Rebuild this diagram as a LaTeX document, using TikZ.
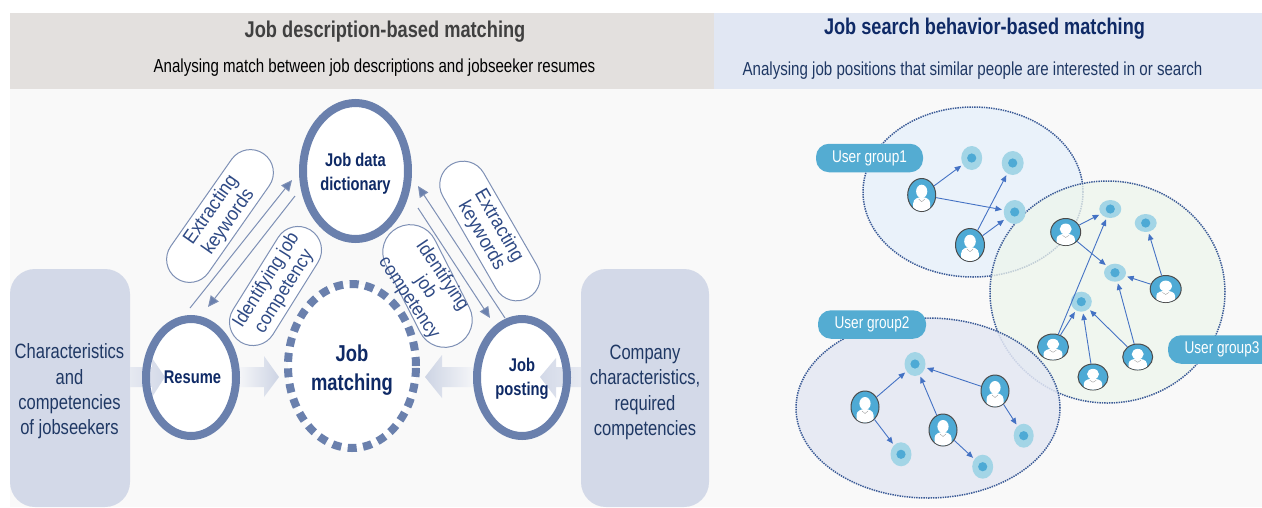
\documentclass[tikz,border=0pt]{standalone}
\usepackage{fontspec}
\setmainfont[FakeStretch=0.8]{Liberation Sans}
\newfontfamily\midfont[FakeStretch=0.92]{Liberation Sans}
\usetikzlibrary{shapes.geometric,arrows.meta}
\definecolor{ringc}{HTML}{6A80AD}
\definecolor{navy}{HTML}{0F2A66}
\definecolor{txtb}{HTML}{1F3864}
\definecolor{pilltxt}{HTML}{2F4A85}
\definecolor{boxc}{HTML}{D3D9E8}
\definecolor{linec}{HTML}{7E90B5}
\definecolor{skyc}{HTML}{54ACD2}
\definecolor{dotout}{HTML}{A3D5E6}
\definecolor{dotin}{HTML}{4EAAD5}
\definecolor{arrb}{HTML}{4472C4}
\definecolor{dotline}{HTML}{3A5A96}
\definecolor{pagebg}{HTML}{F9F9F9}
\definecolor{bandl}{HTML}{E3E0DE}
\definecolor{bandr}{HTML}{E1E7F3}
\definecolor{fadea}{HTML}{E6E9F1}
\definecolor{fadeb}{HTML}{F4F5F8}
\definecolor{fadec}{HTML}{CDD4E4}
\definecolor{groupa}{HTML}{EAF2FA}
\definecolor{groupb}{HTML}{E4E8F3}
\definecolor{groupc}{HTML}{EEF5EC}
\newcommand{\fnt}[2]{\fontsize{#1}{#2}\selectfont}
\tikzset{
  ringfill/.style={ellipse,fill=white,inner sep=0pt,outer sep=0pt},
  ringnode/.style={ellipse,draw=ringc,line width=8pt,inner sep=0pt,outer sep=4pt},
  ringtext/.style={inner sep=0pt,align=center,text=navy,font=\fnt{18.4}{23.5}\bfseries},
  pill/.style={rectangle,draw=linec,line width=1pt,fill=white,inner sep=0pt,align=center,text=pilltxt},
  thinarr/.style={draw=linec,line width=1pt,-{Triangle[length=11pt,width=10pt,fill=ringc]}},
  grouparea/.style={ellipse,draw=dotline,line width=1.5pt,dash pattern=on 1.4pt off 1pt,inner sep=0pt},
  grouptag/.style={rectangle,fill=skyc,rounded corners=13pt,inner sep=0pt,minimum height=28.5pt,text=white,font=\fnt{17}{20}},
  persona/.style={ellipse,fill=dotin,draw=black!70,line width=1pt,inner sep=0pt,outer sep=.5pt},
  dotnode/.style={ellipse,fill=dotout,inner sep=0pt,outer sep=0pt},
  smallarr/.style={draw=arrb,line width=.9pt,-{Triangle[length=6.5pt,width=5.5pt]},shorten >=2pt},
  sidetext/.style={inner sep=0pt,align=center,text=txtb,font=\fnt{20.7}{25.4}},
}
\newcommand{\persona}[5]{%
  \node[persona,minimum width=#4*2pt,minimum height=#5*2pt] (#1) at (#2,#3) {};
  \begin{scope}[shift={(#2,#3)},x={#4/14*1pt},y={-#5/16*1pt}]
    \clip (0,0) ellipse [x radius=13.5,y radius=15.5];
    \fill[white] (-8.5,17) -- (-8.5,8) .. controls (-8.5,3.5) and (-3,2) .. (0,2) .. controls (3,2) and (8.5,3.5) .. (8.5,8) -- (8.5,17) -- cycle;
    \draw[black!45,line width=.3pt] (-3,4) -- (0,6.5) -- (3,4);
    \fill[white] (0,-3.5) ellipse [x radius=5.6,y radius=6.5];
  \end{scope}}
\newcommand{\dotn}[5]{%
  \node[dotnode,minimum width=#4*2pt,minimum height=#5*2pt] (#1) at (#2,#3) {};
  \fill[dotin] (#1.center) ellipse [x radius=4.6,y radius=4.6];}
\begin{document}
\begin{tikzpicture}[x=1pt,y=-1pt]
\useasboundingbox (0,0) rectangle (1262,507);
\clip (0,0) rectangle (1262,507);
% bands
\fill[white] (0,0) rectangle (1262,507);
\fill[pagebg] (10,89) rectangle (1262,507);
\fill[bandl] (10,13) rectangle (714,89);
\fill[bandr] (714,13) rectangle (1262,89);
\node[inner sep=0pt,text=black!75,font=\fnt{22.8}{26}\bfseries] (t1) at (385,32) {Job description-based matching};
\node[inner sep=0pt,text=black,font=\fnt{18.85}{22}] (t2) at (374.5,68) {Analysing match between job descriptions and jobseeker resumes};
\node[inner sep=0pt,text=navy,font=\fnt{22.7}{26}\bfseries] (t3) at (984.5,29) {Job search behavior-based matching};
\node[inner sep=0pt,text=txtb,font=\fnt{18.87}{22}] (t4) at (972.5,71) {Analysing job positions that similar people are interested in or search};
% side boxes
\fill[boxc,rounded corners=25pt] (10,269) rectangle (130,507);
\fill[boxc,rounded corners=25pt] (581,269) rectangle (709,507);
\node[sidetext] (chars) at (69.5,391.5) {Characteristics\\and\\competencies\\of jobseekers};
\node[sidetext] (comp) at (645,392.3) {Company\\characteristics,\\required\\competencies};
% matching ring
\node[ellipse,fill=white,draw=ringc,line width=8pt,dash pattern=on 9pt off 6.5pt,inner sep=0pt,minimum width=128pt,minimum height=164pt] (match) at (352,366) {};
\node[ringtext,font=\fnt{23}{29}\bfseries] (matcht) at (352,370) {Job\\matching};
% white circle faces
\node[ringfill,minimum width=90pt,minimum height=117pt] (rf) at (191,377.5) {};
\node[ringfill,minimum width=90pt,minimum height=117pt] (pf) at (522,377.5) {};
% block arrows
\shade[left color=fadea,right color=boxc] (130,367) -- (152,367) -- (152,358) -- (165,377) -- (152,397) -- (152,387) -- (130,387) -- cycle;
\shade[left color=fadeb,right color=fadec] (240,367) -- (264,367) -- (264,356) -- (279,377) -- (264,397) -- (264,387) -- (240,387) -- cycle;
\shade[right color=fadeb,left color=fadec] (473,367) -- (442,367) -- (442,355) -- (425,377) -- (442,398) -- (442,387) -- (473,387) -- cycle;
\shade[right color=fadea,left color=boxc] (581,367) -- (556,367) -- (556,358) -- (540,377) -- (556,398) -- (556,387) -- (581,387) -- cycle;
% rings
\node[ringnode,fill=white,minimum width=105pt,minimum height=136pt] (dict) at (355.5,171) {};
\node[ringtext] (dictt) at (355.5,173.5) {Job data\\dictionary};
\node[ringnode,minimum width=90pt,minimum height=117pt] (resume) at (191,377.5) {};
\node[ringtext] (resumet) at (192.5,377.5) {Resume};
\node[ringnode,minimum width=90pt,minimum height=117pt] (post) at (522,377.5) {};
\node[ringtext] (postt) at (522,379) {Job\\posting};
% pills
\node[pill,rounded corners=23pt,minimum width=152pt,minimum height=46pt,rotate=55,font=\midfont\fnt{19.5}{21}] (p1) at (220,216) {Extracting\\keywords};
\node[pill,rounded corners=23.5pt,minimum width=132pt,minimum height=47pt,rotate=58,font=\midfont\fnt{19}{21}] (p2) at (275.5,286) {Identifying job\\competency};
\node[pill,rounded corners=23.5pt,minimum width=154pt,minimum height=47pt,rotate=-60,font=\midfont\fnt{19.5}{20}] (p3) at (490,231) {Extracting\\keywords};
\node[pill,rounded corners=27.5pt,minimum width=131pt,minimum height=55pt,rotate=-63] (p4) at (427.5,286) {};
\node[inner sep=0pt,align=center,text=pilltxt,rotate=-56,font=\midfont\fnt{19}{20}] (p4t) at (425.5,287) {Identifying\\job\\competency};
% thin arrows
\coordinate (la1) at (190,308);
\coordinate (la2) at (292,180);
\coordinate (lb1) at (295,196);
\coordinate (lb2) at (208,307);
\coordinate (ra1) at (505,318);
\coordinate (ra2) at (418,186);
\coordinate (rb1) at (418,208);
\coordinate (rb2) at (490,318);
\draw[thinarr] (la1) -- (la2);
\draw[thinarr] (lb1) -- (lb2);
\draw[thinarr] (ra1) -- (ra2);
\draw[thinarr] (rb1) -- (rb2);
% user groups
\node[grouparea,fill=groupa,minimum width=220pt,minimum height=170pt] (g1) at (973,192) {};
\node[grouparea,fill=groupc,fill opacity=.75,minimum width=235pt,minimum height=222pt] (g3) at (1107.5,292) {};
\node[grouparea,fill=groupb,fill opacity=.85,minimum width=264pt,minimum height=180pt] (g2) at (928,408) {};
\node[grouptag,minimum width=107pt] (l1) at (869.5,158) {\raisebox{-1.8pt}{User group1}};
\node[grouptag,minimum width=108pt] (l2) at (872,324.5) {\raisebox{-1.8pt}{User group2}};
\node[grouptag,minimum width=108pt] (l3) at (1222,349.5) {\raisebox{-1.8pt}{User group3}};
% dots
\dotn{d1}{971.7}{158}{10.5}{12}
\dotn{d2}{1012.7}{163}{11}{12}
\dotn{d3}{1014.7}{212}{11}{12}
\dotn{d4}{1110.3}{209}{11}{9}
\dotn{d5}{1145.7}{223}{11}{9}
\dotn{d6}{1115}{272.7}{11}{9}
\dotn{d7}{1081.3}{301.7}{10.5}{10}
\dotn{d8}{915}{364}{10.5}{12}
\dotn{d9}{901}{454.3}{10.5}{12}
\dotn{d10}{982.7}{466.7}{10.5}{12}
\dotn{d11}{1023.7}{435.7}{10}{12}
% people
\persona{u1}{921.7}{195}{14}{16.5}
\persona{u2}{970}{245}{14.5}{16.5}
\persona{u3}{1065.7}{232}{15}{13.5}
\persona{u4}{1165.7}{289}{15.5}{13.5}
\persona{u5}{1053}{347}{15.5}{13}
\persona{u6}{1093}{377}{15}{13}
\persona{u7}{1137.7}{357}{15}{13}
\persona{u8}{865}{407}{14}{16}
\persona{u9}{943}{430}{14}{16}
\persona{u10}{995}{391}{14}{16}
% connectors
\foreach \a/\b in {u1/d1,u1/d3,u2/d2,u2/d3,u3/d4,u3/d6,u4/d5,u4/d6,u5/d4,u5/d7,u6/d7,u7/d7,u7/d6,u8/d8,u8/d9,u9/d8,u9/d10,u10/d8,u10/d11}
  \draw[smallarr] (\a) -- (\b);
\end{tikzpicture}
\end{document}
